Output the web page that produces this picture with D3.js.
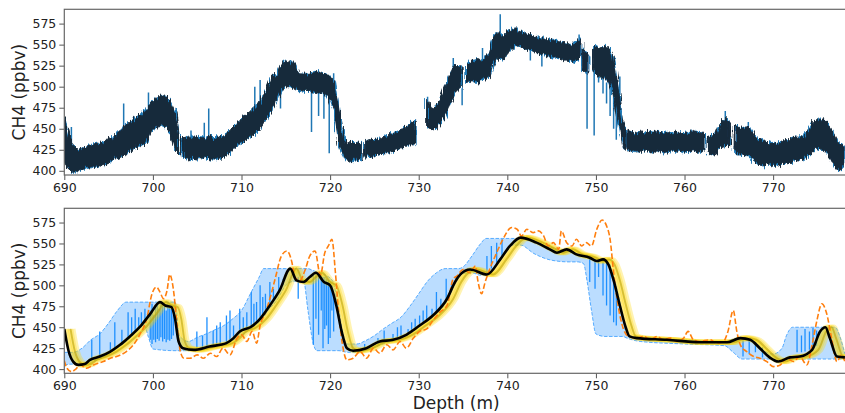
<!DOCTYPE html>
<meta charset="utf-8">
<style>
body { margin: 0; background: #fff; }
text { font-family: "DejaVu Sans", sans-serif; fill: #222; }
.axis text { font-size: 12.5px; fill: #222; }
.axis path { display: none; }
.axis line { stroke: #555; }
.frame { fill: none; stroke: #666; stroke-width: 1.2px; }
.raw-under { fill: #1f77b4; stroke: #1f77b4; stroke-width: 1px; }
.raw-band { fill: #152a3b; stroke: #152a3b; stroke-width: 1px; }
.raw-spike { stroke: #1f77b4; stroke-width: 1.5px; }
.env { fill: rgba(30,144,255,0.3); }
.env-edge { fill: none; stroke: #1e90ff; stroke-opacity: 0.7; stroke-width: 1px; stroke-dasharray: 3.5,1.6; }
.env-spike { stroke: #1e90ff; stroke-width: 1.3px; }
.lag { fill: none; stroke: #ffd700; stroke-opacity: 0.3; stroke-width: 5.5px; stroke-linejoin: round; }
.lag-core { fill: none; stroke: #a89200; stroke-opacity: 0.45; stroke-width: 2px; }
.orange { fill: none; stroke: #ff7f0e; stroke-width: 1.6px; stroke-dasharray: 5.5,2.4; }
.best { fill: none; stroke: #000; stroke-width: 2.6px; stroke-linejoin: round; }
</style>
<svg width="845" height="413"></svg>
<script src="https://d3js.org/d3.v7.min.js"></script>
<script>

// ---- top panel: raw CH4 record (band = low/high of the noisy signal, null = gap)
var topDepth = [690,690.5,691,691.5,692,692.5,693,693.5,694,694.5,695,695.5,696,696.5,697,697.5,698,698.5,699,699.5,700,700.5,701,701.5,702,702.5,702.9,703.1,
  703.3,703.5,704,704.5,705,705.5,706,706.5,707,707.5,708,708.5,709,709.5,710,710.5,711,711.5,712,712.5,713,713.5,714,714.5,715,715.5,716,716.5,717,717.5,
  718,718.5,719,719.5,720,720.5,721,721.5,722,722.5,723,723.5,723.7,723.9,724.5,725,725.5,726,726.5,727,727.5,728,728.5,729,729.6,730.2,
  730.9,731.5,732,732.5,733,733.5,734,734.5,734.9,735.1,735.4,736,736.5,737,737.5,738,738.5,739,739.5,740,740.5,741,741.5,742,742.5,743,743.5,
  744,744.5,745,745.5,746,746.5,747,747.5,748,748.3,748.4,748.5,749.1,749.4,749.7,750,750.5,751,751.5,752,752.5,753,753.3,753.4,
  753.5,754,754.5,755,755.5,756,756.5,757,757.5,758,758.5,759,759.5,760,760.5,761,761.5,762,762.3,762.5,
  762.7,763,763.5,764,764.5,765.1,765.35,765.6,766,766.5,767,767.5,768,768.5,769,769.5,770,770.5,771,771.5,772,772.5,773,773.5,
  774,774.5,775,775.5,776,776.5,777,777.5,778.1];
var topLow = [410,402,398,400,403,404,405,404,406,408,410,413,416,418,420,424,427,430,432,438,450,452,455,452,445,425,420,null,
  416,415,414,415,414,416,415,414,414,415,417,420,425,430,433,437,440,445,450,458,465,475,485,498,500,500,498,494,496,495,
  494,493,492,490,485,470,430,415,413,412,413,415,null,416,417,418,419,420,422,423,425,427,430,432,432,null,
  452,450,452,458,465,478,490,500,498,null,505,507,505,508,510,512,530,535,532,540,545,550,548,545,544,542,540,
  539,537,536,535,534,532,531,530,532,535,null,520,515,null,520,515,512,510,505,490,460,430,425,null,
  426,423,424,422,425,423,422,424,423,422,424,423,425,422,423,424,422,423,425,null,
  420,418,420,428,430,430,null,425,420,420,418,418,410,408,407,408,406,407,408,410,410,412,413,414,
  418,425,428,425,422,415,405,400,408];
var topHigh = [462,440,430,425,427,428,430,431,432,434,437,440,445,450,455,458,462,466,470,476,484,486,490,488,482,470,440,null,
  440,438,440,438,440,439,440,441,438,440,442,445,450,456,462,466,470,475,480,490,500,515,512,525,532,528,528,515,515,514,
  516,518,516,515,512,505,470,440,432,434,433,432,null,435,436,438,437,440,442,444,446,448,452,455,460,null,
  485,472,476,485,500,512,525,525,522,null,528,530,532,532,535,540,560,565,560,565,568,570,565,563,562,560,558,
  558,556,555,554,553,552,550,551,555,558,null,545,538,null,545,548,545,548,545,535,500,460,450,null,
  448,446,444,447,445,446,444,447,445,446,444,447,445,446,444,448,445,446,444,null,
  440,442,442,455,462,458,null,455,452,450,452,448,440,436,435,432,434,432,435,436,438,440,440,442,
  448,458,460,462,458,450,440,432,430];

// isolated excursions of the raw record (drawn in the lighter blue)
var spikeDepth = [690.1,690.8,696.7,699.5,704.3,705.8,706.3,711.5,712.1,714.4,717.9,718.7,719.3,719.9,720.4,731.0,733.9,734.9,737.2,739.2,742.6,743.9,748.1,749.0,749.8,750.3,750.8,751.2,751.6,752.0,752.3,752.7,764.6,767.2];
var spikeFrom  = [440,420,445,470,435,436,438,470,478,500,495,495,495,490,505,470,515,498,528,560,545,540,555,520,520,512,510,505,500,490,480,490,455,448];
var spikeTo    = [464,452,480,493,448,457,474,500,508,474,446,465,462,421,516,488,534,478,546,586,531,524,562,450,442,505,492,480,465,450,437,512,471,458];

// ---- bottom panel
// black: best estimate
var bestDepth = [690.0,690.5,691.0,691.6,692.3,692.9,694.0,695.2,696.3,697.4,698.5,699.7,700.8,701.4,702.1,702.5,702.9,703.4,704.6,706.4,708.3,709.1,709.8,711.0,712.1,713.2,714.3,715.5,716.2,717.0,717.7,718.4,719.3,720.0,720.7,721.3,721.9,722.6,724.1,725.6,727.1,728.6,730.1,731.6,733.2,734.1,734.7,735.8,737.7,739.2,740.3,741.5,743.3,744.8,745.6,746.7,747.8,749.3,750.1,750.8,751.4,752.0,752.7,753.3,753.8,754.6,758.0,761.7,764.8,766.3,767.4,768.5,769.6,770.6,771.9,773.0,774.4,775.3,775.9,776.4,777.2,778.1];
var bestValue = [448,421,409,405,406,411,415,421,429,439,450,466,480,476,474,460,433,425,423,427,431,437,445,450,460,476,494,520,506,504,510,515,504,500,476,445,425,422,425,433,435,441,452,464,484,504,513,519,513,531,547,557,551,543,539,543,537,533,529,531,525,506,476,452,439,437,435,432,432,437,435,425,414,409,414,415,423,445,450,437,415,414];
// depth-lag ensemble drawn in yellow (m)
var lags = [0.2, 0.45, 0.7, 0.95];

// orange dashed: comparison record
var cmpDepth = [690.0,690.3,690.8,691.3,691.8,692.5,693.3,694.4,695.2,695.9,697.0,697.8,698.5,699.3,699.9,700.4,700.8,701.2,701.6,701.9,702.3,702.7,703.1,703.5,704.2,705.0,705.7,706.5,707.2,707.9,708.7,709.5,710.0,710.6,711.2,711.7,712.1,712.7,713.2,713.8,714.5,715.1,715.7,716.0,716.6,717.2,717.7,718.3,718.9,719.4,719.8,720.2,720.6,720.9,721.4,721.9,722.6,723.4,724.1,724.9,725.6,726.4,727.1,727.9,728.6,729.4,730.1,730.9,731.6,732.4,733.2,733.9,734.3,735.0,735.8,736.4,736.7,737.1,737.5,738.0,738.8,739.5,740.5,741.1,741.6,742.2,742.9,743.5,744.1,744.6,745.2,745.8,746.1,746.7,747.3,747.8,748.4,748.9,749.5,750.1,750.7,751.2,751.6,752.0,752.5,753.1,753.7,754.6,755.4,756.1,756.9,757.6,758.4,759.1,759.9,760.4,761.0,761.7,762.9,763.6,764.4,764.9,765.5,765.9,766.3,767.0,767.8,768.5,769.3,770.0,770.8,771.5,772.3,773.0,773.8,774.4,774.9,775.5,776.0,776.6,777.2,777.7,778.1];
var cmpValue = [410,401,397,400,405,401,405,409,413,415,421,429,441,460,490,498,492,484,494,513,496,456,421,413,413,417,413,419,415,425,417,437,441,433,445,431,452,468,484,508,535,541,527,510,506,519,535,541,512,539,547,555,515,476,429,411,413,421,413,425,419,429,423,433,425,437,445,448,458,468,476,508,511,519,515,523,504,490,504,519,539,555,569,567,559,567,563,565,559,547,551,543,565,551,547,555,547,551,547,567,578,571,555,515,476,448,439,437,439,435,439,435,437,433,437,445,435,433,435,431,433,445,470,445,429,421,415,413,409,403,405,413,409,415,405,429,456,478,468,437,409,417,409];

// light blue envelope
var envDepth = [690,691,692,693,694,695,696,697,698,699,699.5,700,702.5,703,704,705,706,707,708,709,710,711,712,712.5,713,714,715,716,717,717.5,718,718.5,719.5,720.3,721,721.5,722,723,724,725,726,727,728,729,730,731,732,733,734,734.5,735,736,737,737.6,738.5,739.5,740.5,741.5,743,745,747,748,748.6,749,749.5,750,751,752,753,753.5,755,760,764.5,765.5,766.5,768,769,770,771,771.5,772.2,777,777.5,778.1];
var envHigh = [420,420,425,435,442,455,470,480,480,480,480,480,480,440,433,438,442,447,452,460,470,490,510,520,520,520,520,520,520,520,518,516,512,505,470,440,430,430,434,440,448,455,462,475,490,505,515,520,520,520,522,535,550,556,556,556,556,556,552,545,540,537,535,535,533,530,531,510,465,440,438,435,433,436,437,432,422,418,425,440,450,450,440,418];
var envLow = [405,406,405,408,412,418,425,433,443,452,438,424,422,422,422,424,426,428,430,434,440,448,456,462,470,482,500,505,505,470,435,422,422,422,422,421,420,420,422,426,430,433,437,442,450,458,466,478,500,510,514,515,512,513,522,535,548,548,538,530,528,528,526,505,470,442,439,439,439,437,433,430,428,420,412,412,412,412,412,412,412,412,412,412];

// vertical excursions inside the envelope
var envSpikeDepth = [693.1,694.0,695.2,695.7,696.5,697.2,697.6,698.0,698.4,698.7,699.1,699.4,699.7,699.9,700.1,700.3,700.5,700.7,700.9,701.1,701.3,701.5,701.7,701.9,702.1,702.3,
  704.96,705.6,706.1,706.8,707.2,707.6,708.3,708.7,709.1,709.8,710.2,710.6,711.1,711.4,711.7,712.1,712.4,712.7,713.2,713.6,714.2,714.7,716.4,718.1,718.4,718.7,719.0,719.2,719.4,719.6,719.8,720.0,720.2,720.4,
  723.9,725.4,726.1,727.1,727.6,728.0,728.8,729.2,729.6,730.1,730.5,730.9,731.5,732.0,732.5,733.1,733.7,734.2,737.7,738.2,738.8,739.4,
  749.3,749.9,750.3,750.8,751.2,751.6,752.0,752.3,766.6,767.3,768.0,768.8,772.7,773.2,773.6,774.1,774.5,774.9];
var envSpikeLo = [413,415,421,425,430,437,440,443,448,452,455,460,435,430,435,432,436,434,438,433,436,432,435,434,436,440,
  424,425,427,428,429,430,431,432,437,445,446,448,450,452,455,460,464,468,476,484,492,500,484,429,460,441,470,425,448,452,430,437,470,445,
  424,430,433,435,436,438,442,444,447,452,455,458,463,468,474,482,493,506,513,520,527,533,
  504,496,510,488,476,464,456,452,415,418,420,414,420,420,421,423,425,428];
var envSpikeHi = [435,445,432,456,447,468,462,472,462,468,472,466,470,478,465,476,479,472,480,476,479,470,478,476,472,465,
  445,440,462,446,452,456,464,470,452,472,462,468,492,478,480,500,486,490,504,496,510,508,510,514,514,514,512,510,510,508,506,503,500,490,
  430,437,446,442,450,452,448,456,460,464,470,476,472,492,484,508,500,511,535,547,551,555,
  533,530,530,531,528,525,506,490,436,435,432,426,447,440,448,445,449,446];

var xTicks = [690,700,710,720,730,740,750,760,770];
var yTicks = [400,425,450,475,500,525,550,575];

var svg = d3.select("svg");
var left = 64.3, right = 848;
var x = d3.scaleLinear().domain([690, 778.45]).range([left, right]);

// noise texture for the dense raw record
var defs = svg.append("defs");
[["rough1", 3], ["rough2", 11]].forEach(function(f) {
  var flt = defs.append("filter").attr("id", f[0])
    .attr("filterUnits", "userSpaceOnUse")
    .attr("x", 0).attr("y", 0).attr("width", 845).attr("height", 200);
  flt.append("feTurbulence").attr("type", "fractalNoise")
    .attr("baseFrequency", "0.7 0.04").attr("numOctaves", 2).attr("seed", f[1]).attr("result", "n");
  flt.append("feDisplacementMap").attr("in", "SourceGraphic").attr("in2", "n")
    .attr("scale", 9).attr("xChannelSelector", "A").attr("yChannelSelector", "G");
});

var panels = [
  {top: 9.3, bottom: 175, id: "clipTop"},
  {top: 208.3, bottom: 373.3, id: "clipBot"}
];
panels.forEach(function(p) {
  p.y = d3.scaleLinear().domain([395, 592]).range([p.bottom, p.top]);
  defs.append("clipPath").attr("id", p.id)
    .append("rect").attr("x", left).attr("y", p.top)
    .attr("width", right - left).attr("height", p.bottom - p.top);
});

function frame(p) {
  svg.append("g").attr("class", "axis")
    .attr("transform", "translate(0," + p.bottom + ")")
    .call(d3.axisBottom(x).tickValues(xTicks).tickSize(5).tickPadding(3).tickFormat(d3.format("d")));
  svg.append("g").attr("class", "axis")
    .attr("transform", "translate(" + left + ",0)")
    .call(d3.axisLeft(p.y).tickValues(yTicks).tickSize(5).tickPadding(3).tickFormat(d3.format("d")));
  svg.append("rect").attr("class", "frame")
    .attr("x", left).attr("y", p.top)
    .attr("width", right - left).attr("height", p.bottom - p.top);
  svg.append("text")
    .attr("transform", "translate(25," + ((p.top + p.bottom) / 2) + ") rotate(-90)")
    .attr("text-anchor", "middle").style("font-size", "17px")
    .text("CH4 (ppbv)");
}

// ---- top panel
var P0 = panels[0];
var g0 = svg.append("g").attr("clip-path", "url(#clipTop)");
var topRows = topDepth.map(function(d, i) { return {d: d, lo: topLow[i], hi: topHigh[i]}; });
var topArea = d3.area()
  .defined(function(r) { return r.lo != null; })
  .x(function(r) { return x(r.d); })
  .y0(function(r) { return P0.y(r.lo); })
  .y1(function(r) { return P0.y(r.hi); });

g0.selectAll("line.raw-spike").data(spikeDepth).join("line")
  .attr("class", "raw-spike")
  .attr("x1", function(d) { return x(d); }).attr("x2", function(d) { return x(d); })
  .attr("y1", function(d, i) { return P0.y(spikeFrom[i]); })
  .attr("y2", function(d, i) { return P0.y(spikeTo[i]); });

var gRaw = g0.append("g");
gRaw.append("path").datum(topRows).attr("class", "raw-under")
  .attr("filter", "url(#rough2)").attr("d", topArea);
gRaw.append("path").datum(topRows).attr("class", "raw-band")
  .attr("filter", "url(#rough1)").attr("d", topArea);

frame(P0);

// ---- bottom panel
var P1 = panels[1];
var g1 = svg.append("g").attr("clip-path", "url(#clipBot)");
var envRows = envDepth.map(function(d, i) { return {d: d, lo: envLow[i], hi: envHigh[i]}; });

g1.append("path").datum(envRows).attr("class", "env")
  .attr("d", d3.area().curve(d3.curveMonotoneX)
    .x(function(r) { return x(r.d); })
    .y0(function(r) { return P1.y(r.lo); })
    .y1(function(r) { return P1.y(r.hi); }));
["lo", "hi"].forEach(function(k) {
  g1.append("path").datum(envRows).attr("class", "env-edge")
    .attr("d", d3.line().curve(d3.curveMonotoneX)
      .x(function(r) { return x(r.d); })
      .y(function(r) { return P1.y(r[k]); }));
});

g1.selectAll("line.env-spike").data(envSpikeDepth).join("line")
  .attr("class", "env-spike")
  .attr("x1", function(d) { return x(d); }).attr("x2", function(d) { return x(d); })
  .attr("y1", function(d, i) { return P1.y(envSpikeLo[i]); })
  .attr("y2", function(d, i) { return P1.y(envSpikeHi[i]); });

var bestRows = bestDepth.map(function(d, i) { return {d: d, v: bestValue[i]}; });
lags.forEach(function(l) {
  g1.append("path").datum(bestRows).attr("class", "lag")
    .attr("d", d3.line().curve(d3.curveMonotoneX)
      .x(function(r) { return x(r.d + l); })
      .y(function(r) { return P1.y(r.v); }));
});
g1.append("path").datum(bestRows).attr("class", "lag-core")
  .attr("d", d3.line().curve(d3.curveMonotoneX)
    .x(function(r) { return x(r.d + lags[2]); })
    .y(function(r) { return P1.y(r.v); }));

var cmpRows = cmpDepth.map(function(d, i) { return {d: d, v: cmpValue[i]}; });
g1.append("path").datum(cmpRows).attr("class", "orange")
  .attr("d", d3.line().curve(d3.curveMonotoneX)
    .x(function(r) { return x(r.d); })
    .y(function(r) { return P1.y(r.v); }));

g1.append("path").datum(bestRows).attr("class", "best")
  .attr("d", d3.line().curve(d3.curveMonotoneX)
    .x(function(r) { return x(r.d); })
    .y(function(r) { return P1.y(r.v); }));

frame(P1);

svg.append("text")
  .attr("x", (left + right) / 2).attr("y", 409)
  .attr("text-anchor", "middle").style("font-size", "17px")
  .text("Depth (m)");

</script>
